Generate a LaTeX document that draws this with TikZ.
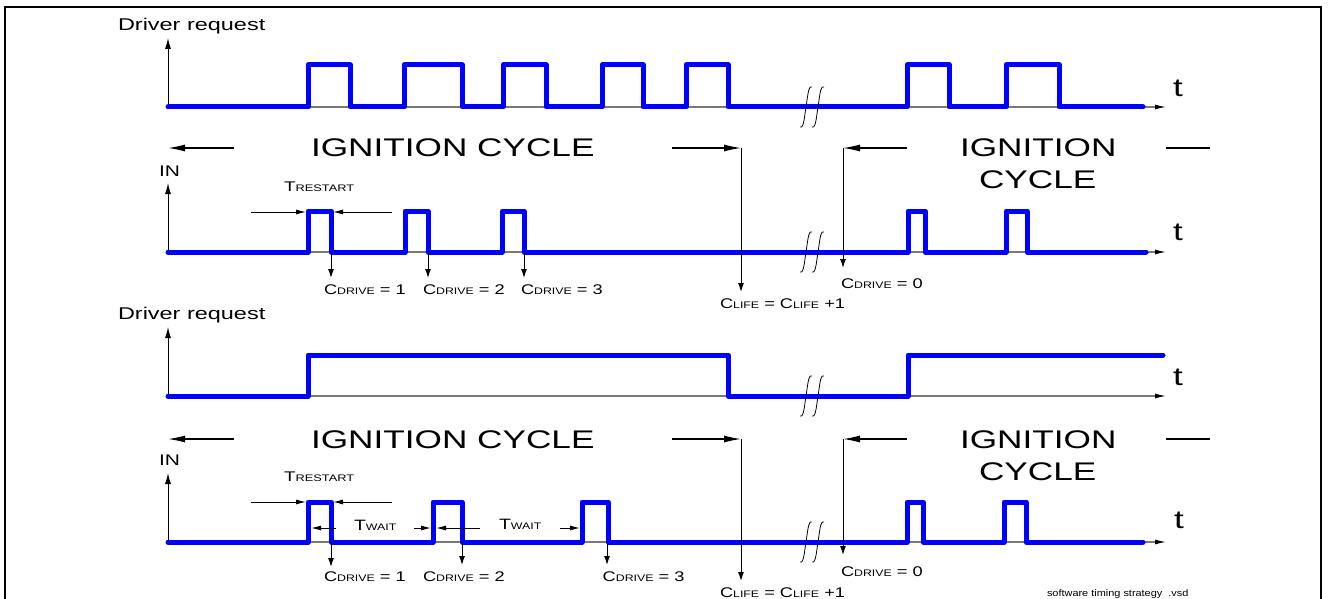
\documentclass[tikz,border=0pt]{standalone}
\usepackage{fontspec}
\setmainfont{Liberation Sans}
\usepackage{graphicx}
\usetikzlibrary{arrows.meta}
\definecolor{sigblue}{RGB}{0,0,255}
\definecolor{axgray}{RGB}{120,120,120}
\newcommand\stx[2]{\scalebox{#1}[1]{#2}}
\newcommand\sbs[1]{{\fontsize{9.5}{10}\selectfont #1}}
\newcommand\bigt[1]{\stx{1.38}{\fontsize{25.5}{30}\selectfont #1}}
\newcommand\drt[1]{\stx{1.38}{\fontsize{17}{20}\selectfont #1}}
\newcommand\clab[1]{\stx{1.3}{\fontsize{14}{16}\selectfont #1}}
\begin{document}
\begin{tikzpicture}[x=1pt,y=-1pt,
  sig/.style={draw=sigblue, line width=5pt, line join=round, line cap=round},
  baseax/.style={draw=axgray, line width=1.1pt, -{Latex[length=11pt,width=5pt,color=black]}},
  yax/.style={draw=black, line width=1pt, -{Latex[length=11pt,width=6pt]}},
  bigarr/.style={draw=black, line width=1.2pt, -{Latex[length=17pt,width=7pt]}},
  smarr/.style={draw=black, line width=1pt, -{Latex[length=9pt,width=6pt]}},
  dimarr/.style={draw=black, line width=1pt, -{Latex[length=10pt,width=5pt]}},
  brkmark/.style={draw=black, line width=0.8pt},
  lbl/.style={anchor=base west, inner sep=0pt, outer sep=0pt}]
\useasboundingbox (0,0) rectangle (1330,599);
% frame
\draw[line width=1.6pt] (5,605) -- (5,7) -- (1321,7) -- (1321,605);

% ================= panel 1 : driver request (pulses)
\node[lbl] (dr1) at (118,30.5) {\drt{Driver request}};
\draw[yax] (168,107) -- (168,38);
\draw[baseax] (168,107) -- (1166,107);
\draw[sig] (168,107) -- (308,107) -- (308,65) -- (350,65) -- (350,107) -- (404,107) -- (404,65) -- (462,65) -- (462,107)
  -- (503,107) -- (503,65) -- (546,65) -- (546,107) -- (602,107) -- (602,65) -- (643,65) -- (643,107)
  -- (686,107) -- (686,65) -- (728,65) -- (728,107) -- (907,107) -- (907,65) -- (949,65) -- (949,107)
  -- (1006,107) -- (1006,65) -- (1059,65) -- (1059,107) -- (1143,107);
\node[lbl] (t1) at (1173,97) {\bigt{t}};

% ================= panel 2 : IN
\node[lbl] (ic1) at (311,157) {\bigt{IGNITION CYCLE}};
\node[lbl] (ic2a) at (960,157) {\bigt{IGNITION}};
\node[lbl] (ic2b) at (979,188.5) {\bigt{CYCLE}};
\coordinate (la1) at (234,148); \coordinate (la1t) at (168,148);
\coordinate (ra1) at (672,148); \coordinate (cl1) at (741,148);
\coordinate (cd1) at (843,148); \coordinate (la2) at (907,148);
\draw[bigarr] (la1) -- (la1t);
\draw[bigarr] (ra1) -- (cl1);
\draw[bigarr] (la2) -- (cd1);
\draw[line width=1.2pt] (1166,148) -- (1210,148);

\node[lbl] (in1) at (159,176) {\stx{1.36}{\fontsize{15.4}{18}\selectfont IN}};
\draw[yax] (168,252) -- (168,183);
\draw[baseax] (168,252) -- (1166,252);
\draw[sig] (168,252) -- (308,252) -- (308,211) -- (331,211) -- (331,252) -- (405,252) -- (405,211) -- (428,211) -- (428,252)
  -- (502,252) -- (502,211) -- (524,211) -- (524,252) -- (908,252) -- (908,211) -- (925,211) -- (925,252)
  -- (1006,252) -- (1006,211) -- (1027,211) -- (1027,252) -- (1146,252);
\node[lbl] (t2) at (1173,240) {\bigt{t}};

\node[lbl] (tr1) at (284,191.7) {\stx{1.35}{\fontsize{14}{16}\selectfont T\sbs{RESTART}}};
\draw[dimarr] (251,212) -- (306,212);
\draw[dimarr] (392,212) -- (333,212);

\draw[smarr] (331,252) -- (331,278);
\draw[smarr] (428,252) -- (428,278);
\draw[smarr] (524,252) -- (524,278);
\node[lbl] (cd11) at (324,294.3) {\clab{C\sbs{DRIVE} = 1}};
\node[lbl] (cd12) at (423,294.3) {\clab{C\sbs{DRIVE} = 2}};
\node[lbl] (cd13) at (521,294.3) {\clab{C\sbs{DRIVE} = 3}};
\draw[smarr] (cl1) -- (741,292);
\node[lbl] (clife1) at (720,308) {\clab{C\sbs{LIFE} = C\sbs{LIFE} +1}};
\draw[smarr] (cd1) -- (843,268);
\node[lbl] (cd10) at (841,288) {\clab{C\sbs{DRIVE} = 0}};

% ================= panel 3 : driver request (level)
\node[lbl] (dr2) at (118,319) {\drt{Driver request}};
\draw[yax] (168,396) -- (168,327);
\draw[baseax] (168,396) -- (1166,396);
\draw[sig] (168,396) -- (308,396) -- (308,355) -- (728,355) -- (728,396) -- (908,396) -- (908,355) -- (1163,355);
\node[lbl] (t3) at (1173,385) {\bigt{t}};

% ================= panel 4 : IN
\node[lbl] (ic3) at (311,448) {\bigt{IGNITION CYCLE}};
\node[lbl] (ic4a) at (960,448) {\bigt{IGNITION}};
\node[lbl] (ic4b) at (979,480) {\bigt{CYCLE}};
\coordinate (lb1) at (234,439); \coordinate (lb1t) at (168,439);
\coordinate (rb1) at (672,439); \coordinate (cl2) at (741,439);
\coordinate (cd2) at (843,439); \coordinate (lb2) at (907,439);
\draw[bigarr] (lb1) -- (lb1t);
\draw[bigarr] (rb1) -- (cl2);
\draw[bigarr] (lb2) -- (cd2);
\draw[line width=1.2pt] (1166,439) -- (1210,439);

\node[lbl] (in2) at (159,465) {\stx{1.36}{\fontsize{15.4}{18}\selectfont IN}};
\draw[yax] (168,542) -- (168,473);
\draw[baseax] (168,542) -- (1166,542);
\draw[sig] (168,542) -- (308,542) -- (308,502) -- (331,502) -- (331,542) -- (433,542) -- (433,502) -- (462,502) -- (462,542)
  -- (582,542) -- (582,502) -- (608,502) -- (608,542) -- (907,542) -- (907,502) -- (923,502) -- (923,542)
  -- (1004,542) -- (1004,502) -- (1026,502) -- (1026,542) -- (1143,542);
\node[lbl] (t4) at (1174,528) {\bigt{t}};

\node[lbl] (tr2) at (284,481.7) {\stx{1.35}{\fontsize{14}{16}\selectfont T\sbs{RESTART}}};
\draw[dimarr] (251,502) -- (306,502);
\draw[dimarr] (392,502) -- (333,502);

\node[lbl] (tw1) at (354,530.7) {\stx{1.3}{\fontsize{15}{16}\selectfont T\sbs{WAIT}}};
\node[lbl] (tw2) at (499,529.5) {\stx{1.3}{\fontsize{15}{16}\selectfont T\sbs{WAIT}}};
\draw[dimarr] (336,528) -- (311,528);
\draw[dimarr] (414,528) -- (431,528);
\draw[dimarr] (480,528) -- (436,528);
\draw[dimarr] (560,528) -- (580,528);

\draw[smarr] (331,542) -- (331,567);
\draw[smarr] (462,542) -- (462,565);
\draw[smarr] (607,542) -- (607,565);
\node[lbl] (cd21) at (324,581.7) {\clab{C\sbs{DRIVE} = 1}};
\node[lbl] (cd22) at (423,581.7) {\clab{C\sbs{DRIVE} = 2}};
\node[lbl] (cd23) at (602.7,581.7) {\clab{C\sbs{DRIVE} = 3}};
\draw[smarr] (cl2) -- (741,581);
\node[lbl] (clife2) at (720,597) {\clab{C\sbs{LIFE} = C\sbs{LIFE} +1}};
\draw[smarr] (cd2) -- (843,555);
\node[lbl] (cd20) at (841,576.7) {\clab{C\sbs{DRIVE} = 0}};

\node[lbl] (fname) at (1047,596.5) {\stx{1.15}{\fontsize{9.5}{10}\selectfont software timing strategy\ \ .vsd}};

% break marks
\foreach \b in {107,252,396,542} {
  \foreach \x in {806,818} {
    \draw[brkmark] (\x-6,\b+20) .. controls (\x-2,\b+22) and (\x-1.5,\b+8) .. (\x,\b)
      .. controls (\x+1.5,\b-8) and (\x+2,\b-22) .. (\x+6,\b-20);
  }
}
\end{tikzpicture}
\end{document}
